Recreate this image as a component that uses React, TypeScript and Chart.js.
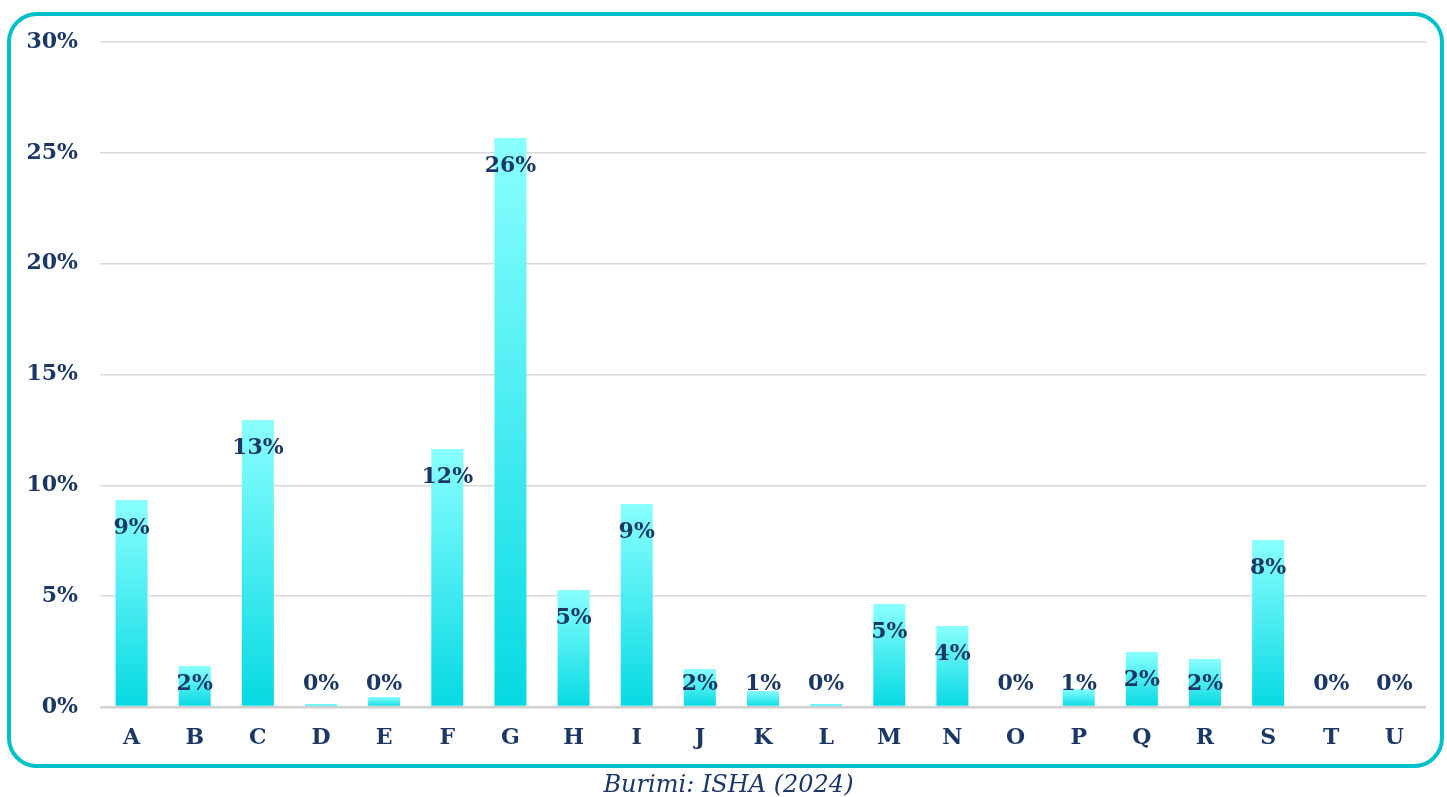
import React, { useEffect, useRef } from "react";
import { Chart, registerables } from "chart.js";

Chart.register(...registerables);

const categories = ["A","B","C","D","E","F","G","H","I","J","K","L","M","N","O","P","Q","R","S","T","U"];
const shares = [9.34,1.85,12.95,0.14,0.45,11.64,25.67,5.28,9.16,1.71,0.72,0.14,4.65,3.65,0,0.81,2.48,2.17,7.53,0,0];
const yTicks = [0,5,10,15,20,25,30];
const caption = "Burimi: ISHA (2024)";

const TEXT = "#1b3766";
const FONT = "'DejaVu Serif', Georgia, serif";

const labelPlugin = {
  id: "barLabels",
  afterDatasetsDraw(chart: any) {
    const c = chart.ctx;
    const meta = chart.getDatasetMeta(0);
    const base = chart.scales.y.getPixelForValue(0);
    c.save();
    c.font = `bold 22px ${FONT}`;
    c.fillStyle = TEXT;
    c.textAlign = "center";
    c.textBaseline = "middle";
    meta.data.forEach((el: any, i: number) => {
      const v = shares[i];
      const y = Math.min(el.y + 28, base - 23);
      c.fillText(Math.round(v) + "%", el.x, y);
    });
    c.restore();
  },
};

export default function App() {
  const ref = useRef<HTMLCanvasElement>(null);
  useEffect(() => {
    document.body.style.margin = "0";
    const chart = new Chart(ref.current!, {
      type: "bar",
      data: {
        labels: categories,
        datasets: [
          {
            data: shares,
            barPercentage: 0.507,
            categoryPercentage: 1,
            backgroundColor: (ctx: any) => {
              const ch = ctx.chart;
              if (!ch.chartArea || !ch.scales.y) return "#40e8ee";
              const ys = ch.scales.y;
              const top = ys.getPixelForValue(ctx.raw ?? 0);
              const base = ys.getPixelForValue(0);
              const g = ch.ctx.createLinearGradient(0, Math.min(top, base - 1), 0, base);
              g.addColorStop(0, "#8AFFFF");
              g.addColorStop(1, "#06D9E2");
              return g;
            },
          },
        ],
      },
      options: {
        responsive: false,
        animation: false,
        layout: { padding: { left: 0, right: 21, top: 42, bottom: 0 } },
        plugins: { legend: { display: false }, tooltip: { enabled: false } },
        scales: {
          x: {
            grid: { display: false },
            border: { display: false },
            ticks: { color: TEXT, font: { family: FONT, size: 22, weight: "bold" }, padding: 10 },
            afterFit: (s: any) => { s.height = 90; },
          },
          y: {
            min: 0,
            max: 30,
            afterBuildTicks: (s: any) => { s.ticks = yTicks.map((v) => ({ value: v })); },
            grid: {
              drawTicks: false,
              color: (ctx: any) => (ctx.tick && ctx.tick.value === 0 ? "#d0d0d0" : "#d9d9d9"),
              lineWidth: (ctx: any) => (ctx.tick && ctx.tick.value === 0 ? 2.5 : 1.5),
            },
            border: { display: false },
            ticks: {
              color: TEXT,
              font: { family: FONT, size: 22, weight: "bold" },
              padding: 22,
              callback: (v: any) => v + "%",
            },
            afterFit: (s: any) => { s.width = 100; },
          },
        },
      },
      plugins: [labelPlugin],
    });
    return () => chart.destroy();
  }, []);

  return (
    <div style={{ position: "relative", width: 1447, height: 797, overflow: "hidden", background: "#fff" }}>
      <div
        style={{
          position: "absolute",
          left: 7,
          top: 12,
          width: 1437,
          height: 756,
          border: "4px solid #00C0C8",
          borderRadius: 30,
          boxSizing: "border-box",
        }}
      />
      <canvas ref={ref} width={1447} height={797} style={{ position: "absolute", left: 0, top: 0 }} />
      <div
        style={{
          position: "absolute",
          left: 0,
          width: 1457,
          top: 769,
          textAlign: "center",
          fontFamily: FONT,
          fontStyle: "italic",
          fontSize: 24,
          color: TEXT,
          lineHeight: "30px",
        }}
      >
        {caption}
      </div>
    </div>
  );
}
